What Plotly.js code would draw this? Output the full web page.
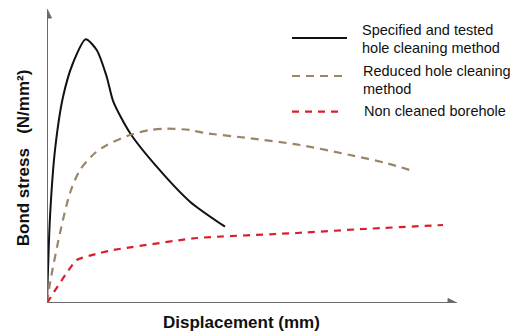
<!DOCTYPE html>
<html>
<head>
<meta charset="utf-8">
<script src="https://cdn.plot.ly/plotly-3.0.1.min.js"></script>
<style>html,body{margin:0;padding:0;background:#fff;}#chart{width:510px;height:333px;}</style>
</head>
<body>
<div id="chart"></div>
<script>
// Displacement / bond stress values (arbitrary units)
const specX = [0, 3, 8, 16, 26, 38.7, 49.7, 59.7, 66.3, 83, 109.7, 143, 178];
const specY = [0, 86, 153, 206, 240, 263.7, 253, 226.3, 201.3, 170, 136.3, 101.3, 76.3];

const reducedX = [0, 3, 13, 23, 33, 48, 60, 83, 103, 120, 143, 156, 203, 253, 303, 340, 368];
const reducedY = [0, 20, 70, 110, 133, 150, 158, 168, 173, 174.3, 173, 170.3, 164.7, 158, 148, 139.7, 131.3];

const nonX = [0, 29.7, 53, 66, 150, 250, 316, 396];
const nonY = [0, 43, 50, 53, 65, 70, 74, 78];

const seriesNames = ["Specified and tested<br>hole cleaning method", "Reduced hole cleaning<br>method", "Non cleaned borehole"];
const xTitle = "Displacement (mm)";
const yTitle = "Bond stress\u00A0\u00A0\u00A0(N/mm\u00B2)";

const colors = ["#111111", "#9a8566", "#d8202c"];

const traces = [
  {x: specX, y: specY, name: seriesNames[0], mode: "lines",
   line: {color: colors[0], width: 2, shape: "spline", smoothing: 0.7}},
  {x: reducedX, y: reducedY, name: seriesNames[1], mode: "lines",
   line: {color: colors[1], width: 2.2, shape: "spline", smoothing: 0.8, dash: "8px,6px"}},
  {x: nonX, y: nonY, name: seriesNames[2], mode: "lines",
   line: {color: colors[2], width: 2.2, shape: "spline", smoothing: 0.4, dash: "7px,6px"}}
];

const axisColor = "#6a6a6a";
const font = "Liberation Sans, Arial, Helvetica, sans-serif";

const annotations = [
  // axis titles
  {x: 0.4714, y: -0.067, xref: "paper", yref: "paper", text: xTitle, showarrow: false,
   xanchor: "center", yanchor: "middle", font: {family: font, size: 17, color: "#111", weight: "bold"}},
  {x: -0.055, y: 0.4866, xref: "paper", yref: "paper", text: yTitle, showarrow: false, textangle: -90,
   xanchor: "center", yanchor: "middle", font: {family: font, size: 17, color: "#111", weight: "bold"}}
];

// legend text, one annotation per line of each series name
const legendTop = [273, 232, 192];
const legendX = [313, 314, 315];
seriesNames.forEach(function (name, i) {
  name.split("<br>").forEach(function (part, j) {
    annotations.push({x: legendX[i], y: legendTop[i] - 18 * j, xref: "x", yref: "y", text: part,
      showarrow: false, xanchor: "left", yanchor: "middle",
      font: {family: font, size: 14.5, color: "#111"}});
  });
});

const shapes = [
  // axes with arrowheads
  {type: "line", xref: "x", yref: "y", x0: 0, x1: 402, y0: 0, y1: 0, line: {color: axisColor, width: 2}},
  {type: "path", xref: "x", yref: "y", path: "M 401,-4.5 L 410,0 L 401,4.5 Z", fillcolor: axisColor, line: {color: axisColor, width: 1}},
  {type: "line", xref: "x", yref: "y", x0: 0, x1: 0, y0: 0, y1: 286, line: {color: axisColor, width: 2}},
  {type: "path", xref: "x", yref: "y", path: "M -4.5,285 L 0,294 L 4.5,285 Z", fillcolor: axisColor, line: {color: axisColor, width: 1}},
  // legend samples
  {type: "line", xref: "x", yref: "y", x0: 245, x1: 300, y0: 265, y1: 265, line: {color: colors[0], width: 2.2}},
  {type: "line", xref: "x", yref: "y", x0: 245, x1: 297, y0: 227, y1: 227, line: {color: colors[1], width: 2.2, dash: "8px,6px"}},
  {type: "line", xref: "x", yref: "y", x0: 245, x1: 297, y0: 191.3, y1: 191.3, line: {color: colors[2], width: 2.2, dash: "7px,6px"}}
];

const layout = {
  width: 510, height: 333,
  margin: {l: 47, r: 50, t: 5, b: 30},
  paper_bgcolor: "#ffffff", plot_bgcolor: "#ffffff",
  showlegend: false,
  xaxis: {range: [0, 413], showgrid: false, zeroline: false, showline: false, showticklabels: false, ticks: ""},
  yaxis: {range: [0, 298], showgrid: false, zeroline: false, showline: false, showticklabels: false, ticks: ""},
  annotations: annotations,
  shapes: shapes
};

Plotly.newPlot("chart", traces, layout, {displayModeBar: false, staticPlot: true}).then(function () {
  // remove Plotly's hidden off-screen text-measuring svg
  const tester = document.getElementById("js-plotly-tester");
  if (tester) tester.remove();
});
</script>
</body>
</html>
